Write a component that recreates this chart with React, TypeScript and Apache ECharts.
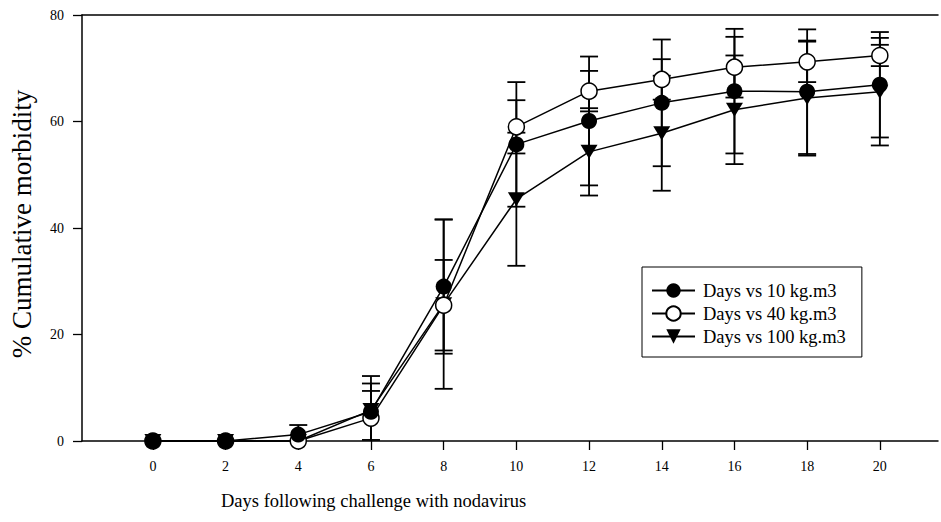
import React, { useEffect, useRef } from "react";
import * as echarts from "echarts";

const days = [0, 2, 4, 6, 8, 10, 12, 14, 16, 18, 20];
const xTicks = [0, 2, 4, 6, 8, 10, 12, 14, 16, 18, 20];

const seriesNames = ["Days vs 10 kg.m3", "Days vs 40 kg.m3", "Days vs 100 kg.m3"];

const mean10 = [0, 0, 1.2, 5.5, 29.0, 55.7, 60.1, 63.5, 65.7, 65.6, 66.9];
const sd10 = [0, 0, 1.8, 5.3, 12.6, 11.7, 12.1, 11.9, 11.7, 11.7, 9.9];
const mean40 = [0, 0, 0, 4.3, 25.5, 59.0, 65.7, 67.9, 70.2, 71.2, 72.4];
const sd40 = [0, 0, 0, 5.1, 8.5, 5.0, 3.8, 3.8, 5.7, 3.8, 2.0];
const mean100 = [0, 0, 0, 5.8, 25.7, 45.4, 54.3, 57.8, 62.2, 64.4, 65.6];
const sd100 = [0, 0, 0, 6.4, 15.9, 12.5, 8.2, 10.8, 10.2, 10.8, 10.1];

const FONT = "Liberation Serif";
const TRI_DOWN = "path://M0,0L20,0L10,16Z";

function errData(means: number[], sds: number[]) {
  return days.map((d, i) => [d, means[i], sds[i]]);
}

function errSeries(name: string, means: number[], sds: number[], z: number) {
  return {
    type: "custom",
    name: name + " err",
    z,
    silent: true,
    data: errData(means, sds),
    renderItem: (params: any, api: any) => {
      const x = api.value(0);
      const m = api.value(1);
      const sd = api.value(2);
      if (!(sd > 0)) return { type: "group", children: [] };
      const hi = m + sd;
      const loRaw = m - sd;
      const lo = Math.max(loRaw, 0);
      const pHi = api.coord([x, hi]);
      const pLo = api.coord([x, lo]);
      const half = 9;
      const style = { stroke: "#000", lineWidth: 1.8 };
      const children: any[] = [
        { type: "line", shape: { x1: pHi[0], y1: pHi[1], x2: pLo[0], y2: pLo[1] }, style },
        { type: "line", shape: { x1: pHi[0] - half, y1: pHi[1], x2: pHi[0] + half, y2: pHi[1] }, style },
      ];
      if (loRaw >= 0) {
        children.push({ type: "line", shape: { x1: pLo[0] - half, y1: pLo[1], x2: pLo[0] + half, y2: pLo[1] }, style });
      }
      return { type: "group", children };
    },
  };
}

function lineData(means: number[]) {
  return days.map((d, i) => [d, means[i]]);
}

export default function App() {
  const ref = useRef<HTMLDivElement>(null);
  useEffect(() => {
    if (!ref.current) return;
    const chart = echarts.init(ref.current, null, { renderer: "svg" });
    const axisLineStyle = { color: "#000", width: 1.5 };
    chart.setOption({
      animation: false,
      backgroundColor: "#fff",
      grid: { left: 82, top: 15, right: 3, bottom: 81, containLabel: false },
      xAxis: [
        {
          type: "value",
          min: -1.95,
          max: 21.6,
          axisLine: { show: true, onZero: false, lineStyle: axisLineStyle },
          axisTick: { show: true, inside: false, length: 9, lineStyle: { color: "#000", width: 1.3 }, customValues: xTicks },
          axisLabel: { color: "#000", fontFamily: FONT, fontSize: 14, margin: 18, customValues: xTicks },
          splitLine: { show: false },
        },
        {
          type: "value",
          position: "top",
          min: -1.95,
          max: 21.6,
          axisLine: { show: true, onZero: false, lineStyle: axisLineStyle },
          axisTick: { show: false },
          axisLabel: { show: false },
          splitLine: { show: false },
        },
      ],
      yAxis: {
        type: "value",
        min: 0,
        max: 80,
        interval: 20,
        axisLine: { show: true, onZero: false, lineStyle: axisLineStyle },
        axisTick: { show: true, inside: false, length: 9, lineStyle: { color: "#000", width: 1.3 } },
        axisLabel: { color: "#000", fontFamily: FONT, fontSize: 14, margin: 18 },
        splitLine: { show: false },
      },
      legend: {
        left: 642,
        top: 267,
        orient: "vertical",
        backgroundColor: "#fff",
        borderColor: "#000",
        borderWidth: 1,
        padding: [14, 16, 11, 9],
        itemGap: 4,
        itemWidth: 43,
        itemHeight: 18,
        data: seriesNames,
        textStyle: { color: "#000", fontFamily: FONT, fontSize: 18.5, padding: [0, 0, 0, 3] },
      },
      graphic: [
        {
          type: "text",
          left: 221,
          top: 491,
          style: { text: "Days following challenge with nodavirus", fill: "#000", fontFamily: FONT, fontSize: 18.5 },
        },
        {
          type: "text",
          x: 22,
          y: 224,
          rotation: Math.PI / 2,
          style: {
            text: "% Cumulative morbidity",
            fill: "#000",
            fontFamily: FONT,
            fontSize: 27,
            textAlign: "center",
            textVerticalAlign: "middle",
          },
        },
      ],
      series: [
        errSeries(seriesNames[2], mean100, sd100, 2),
        errSeries(seriesNames[1], mean40, sd40, 2),
        errSeries(seriesNames[0], mean10, sd10, 2),
        {
          type: "line",
          name: seriesNames[2],
          data: lineData(mean100),
          z: 3,
          clip: false,
          symbol: TRI_DOWN,
          symbolSize: [17, 14],
          color: "#000",
          lineStyle: { color: "#000", width: 1.5 },
          itemStyle: { color: "#000", borderWidth: 0 },
        },
        {
          type: "line",
          name: seriesNames[1],
          data: lineData(mean40),
          z: 4,
          clip: false,
          symbol: "circle",
          symbolSize: 16,
          color: "#000",
          lineStyle: { color: "#000", width: 1.5 },
          itemStyle: { color: "#fff", borderColor: "#000", borderWidth: 1.5 },
        },
        {
          type: "line",
          name: seriesNames[0],
          data: lineData(mean10),
          z: 5,
          clip: false,
          symbol: "circle",
          symbolSize: 16,
          color: "#000",
          lineStyle: { color: "#000", width: 1.5 },
          itemStyle: { color: "#000", borderWidth: 0 },
        },
      ],
    });
    return () => chart.dispose();
  }, []);
  return <div ref={ref} style={{ position: "fixed", left: 0, top: 0, width: 941, height: 522 }} />;
}
